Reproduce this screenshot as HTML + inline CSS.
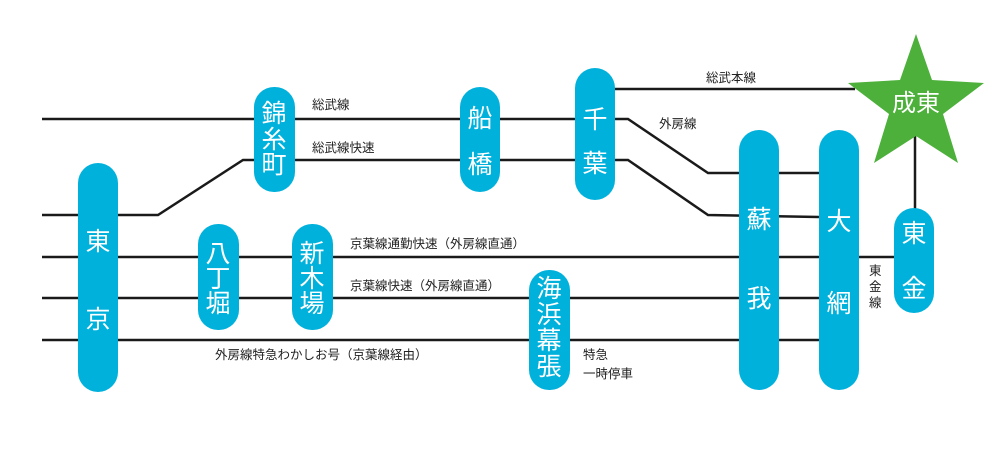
<!DOCTYPE html>
<html><head><meta charset="utf-8"><style>
body{margin:0;background:#fff;}
svg text{font-family:"Liberation Sans","Noto Sans CJK JP",sans-serif;}
.l{fill:#222;font-size:12.5px;}
.s{fill:#fff;font-size:25px;text-anchor:middle;}
</style></head><body>
<svg width="999" height="451" viewBox="0 0 999 451" xmlns="http://www.w3.org/2000/svg">
<g stroke="#1a1a1a" stroke-width="2.5" fill="none">
<polyline points="42,119 580,119 628,119 708,173 819,173"/>
<polyline points="270,160 628,160 708,215 819,217"/>
<polyline points="42,215 158,215 243,160 270,160"/>
<line x1="595" y1="89" x2="855" y2="89"/>
<line x1="42" y1="257" x2="894" y2="257"/>
<line x1="42" y1="298" x2="819" y2="298"/>
<line x1="42" y1="340" x2="819" y2="340"/>
<line x1="915" y1="130" x2="915" y2="210"/>
</g>
<polygon points="916,34 932,80 984,83 943,114 958,163 916,136 874,163 889,114 848,83 900,80" fill="#4cb03a"/>
<text x="916" y="111" class="s" style="font-size:24px">成東</text>
<g fill="#00b1dc">
<rect x="78" y="163" width="40" height="229" rx="20"/>
<rect x="254" y="87" width="41" height="105" rx="20"/>
<rect x="460" y="87" width="40" height="105" rx="20"/>
<rect x="575" y="68" width="40" height="132" rx="20"/>
<rect x="198" y="224" width="41" height="106" rx="20"/>
<rect x="292" y="224" width="41" height="106" rx="20"/>
<rect x="529" y="270" width="41" height="120" rx="20"/>
<rect x="739" y="130" width="40" height="260" rx="20"/>
<rect x="819" y="130" width="40" height="260" rx="20"/>
<rect x="894" y="208" width="40" height="105" rx="20"/>
</g>
<text class="s" x="98" y="250">東</text><text class="s" x="98" y="328">京</text>
<text class="s" x="274" y="122">錦</text><text class="s" x="274" y="148">糸</text><text class="s" x="274" y="173">町</text>
<text class="s" x="480" y="127">船</text><text class="s" x="480" y="173">橋</text>
<text class="s" x="595" y="128">千</text><text class="s" x="595" y="172">葉</text>
<text class="s" x="218" y="262">八</text><text class="s" x="218" y="287">丁</text><text class="s" x="218" y="312">堀</text>
<text class="s" x="312" y="262">新</text><text class="s" x="312" y="287">木</text><text class="s" x="312" y="312">場</text>
<text class="s" x="549" y="297">海</text><text class="s" x="549" y="323">浜</text><text class="s" x="549" y="349">幕</text><text class="s" x="549" y="375">張</text>
<text class="s" x="759" y="228">蘇</text><text class="s" x="759" y="307">我</text>
<text class="s" x="839" y="230">大</text><text class="s" x="839" y="312">網</text>
<text class="s" x="914" y="242">東</text><text class="s" x="914" y="297">金</text>
<text class="l" x="312" y="109">総武線</text>
<text class="l" x="312" y="152">総武線快速</text>
<text class="l" x="350" y="248">京葉線通勤快速（外房線直通）</text>
<text class="l" x="350" y="290">京葉線快速（外房線直通）</text>
<text class="l" x="215" y="359">外房線特急わかしお号（京葉線経由）</text>
<text class="l" x="706" y="82">総武本線</text>
<text class="l" x="659" y="128">外房線</text>
<text class="l" x="869" y="275">東</text><text class="l" x="869" y="291">金</text><text class="l" x="869" y="307">線</text>
<text class="l" x="583" y="359">特急</text>
<text class="l" x="583" y="378">一時停車</text>
</svg>
</body></html>
